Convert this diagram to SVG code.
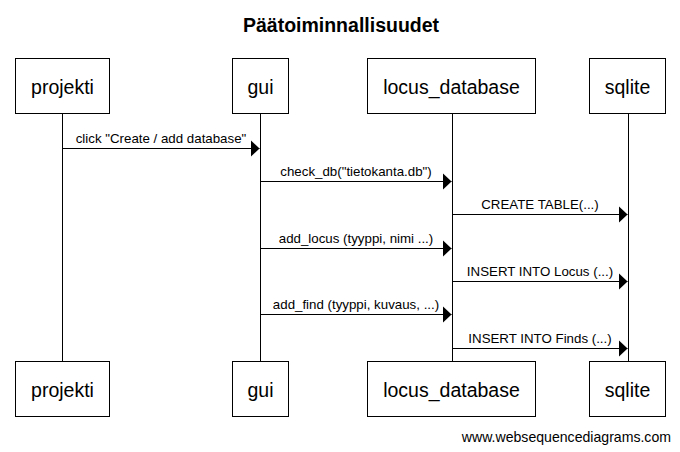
<svg xmlns="http://www.w3.org/2000/svg" width="680" height="452" viewBox="0 0 680 452">
<style>
  .box { fill: #ffffff; stroke: #000000; stroke-width: 1; }
  .life { stroke: #000000; stroke-width: 1; fill: none; }
  .msg { stroke: #000000; stroke-width: 1; fill: none; marker-end: url(#arrow); }
  .name { font-family: "Liberation Sans", Arial, sans-serif; font-size: 19.5px; fill: #000000; text-anchor: middle; }
  .lbl { font-family: "Liberation Sans", Arial, sans-serif; font-size: 13.3px; fill: #000000; text-anchor: middle; }
  .title { font-family: "Liberation Sans", Arial, sans-serif; font-size: 19.5px; font-weight: bold; fill: #000000; text-anchor: middle; }
  .foot { font-family: "Liberation Sans", Arial, sans-serif; font-size: 14.1px; fill: #000000; text-anchor: end; }
</style>
<defs>
  <marker id="arrow" markerUnits="userSpaceOnUse" markerWidth="10" markerHeight="18" refX="9" refY="8.5" orient="auto">
    <path d="M0,0 L9,8.5 L0,17 Z" fill="#000000"/>
  </marker>
</defs>
<rect width="680" height="452" fill="#ffffff"/>
<text class="title" x="341" y="32">Päätoiminnallisuudet</text>
<g id="lifelines">
  <line class="life" x1="62.5" y1="113" x2="62.5" y2="361"/>
  <line class="life" x1="260.5" y1="113" x2="260.5" y2="361"/>
  <line class="life" x1="452.5" y1="113" x2="452.5" y2="361"/>
  <line class="life" x1="628.5" y1="113" x2="628.5" y2="361"/>
</g>
<g id="node-projekti">
  <rect class="box" x="15.5" y="58.5" width="94" height="55"/>
  <text class="name" x="62.5" y="94">projekti</text>
  <rect class="box" x="15.5" y="361.5" width="94" height="55"/>
  <text class="name" x="62.5" y="397">projekti</text>
</g>
<g id="node-gui">
  <rect class="box" x="232.5" y="58.5" width="56" height="55"/>
  <text class="name" x="260.5" y="94">gui</text>
  <rect class="box" x="232.5" y="361.5" width="56" height="55"/>
  <text class="name" x="260.5" y="397">gui</text>
</g>
<g id="node-locus_database">
  <rect class="box" x="367.5" y="58.5" width="168" height="55"/>
  <text class="name" x="451.5" y="94">locus_database</text>
  <rect class="box" x="367.5" y="361.5" width="168" height="55"/>
  <text class="name" x="451.5" y="397">locus_database</text>
</g>
<g id="node-sqlite">
  <rect class="box" x="589.5" y="58.5" width="76" height="55"/>
  <text class="name" x="627.5" y="94">sqlite</text>
  <rect class="box" x="589.5" y="361.5" width="76" height="55"/>
  <text class="name" x="627.5" y="397">sqlite</text>
</g>
<g id="connectors">
  <line class="msg" x1="62.5" y1="148.5" x2="259.5" y2="148.5"/>
  <text class="lbl" x="161" y="143">click "Create / add database"</text>
  <line class="msg" x1="260.5" y1="181.5" x2="451.5" y2="181.5"/>
  <text class="lbl" x="356" y="176">check_db("tietokanta.db")</text>
  <line class="msg" x1="452.5" y1="214.5" x2="627.5" y2="214.5"/>
  <text class="lbl" x="540" y="209">CREATE TABLE(...)</text>
  <line class="msg" x1="260.5" y1="248.5" x2="451.5" y2="248.5"/>
  <text class="lbl" x="356" y="243">add_locus (tyyppi, nimi ...)</text>
  <line class="msg" x1="452.5" y1="281.5" x2="627.5" y2="281.5"/>
  <text class="lbl" x="540" y="276">INSERT INTO Locus (...)</text>
  <line class="msg" x1="260.5" y1="314.5" x2="451.5" y2="314.5"/>
  <text class="lbl" x="356" y="309">add_find (tyyppi, kuvaus, ...)</text>
  <line class="msg" x1="452.5" y1="348.5" x2="627.5" y2="348.5"/>
  <text class="lbl" x="540" y="343">INSERT INTO Finds (...)</text>
</g>
<text class="foot" x="671" y="442">www.websequencediagrams.com</text>
</svg>
